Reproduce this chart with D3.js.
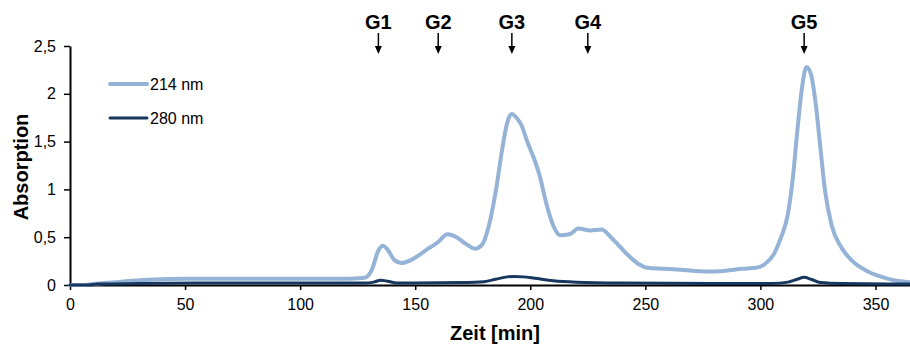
<!DOCTYPE html>
<html>
<head>
<meta charset="utf-8">
<script src="https://cdn.jsdelivr.net/npm/d3@7"></script>
<style>
  body { margin: 0; background: #fff; }
  svg { display: block; font-family: "Liberation Sans", Arial, sans-serif; }
</style>
</head>
<body>
<svg id="chart" width="910" height="345"></svg>
<script>
// 214 nm trace (time in min, absorption)
var t214 = [0, 5, 10, 20, 30, 40, 50, 70, 100, 120, 128, 131, 134, 136, 138, 141, 144, 148, 155, 160,
  164, 168, 172, 176, 179, 182, 185, 188, 190, 192, 194, 196, 199, 202, 204, 207, 210, 213, 217, 221,
  226, 231, 235, 239, 243, 247, 251, 258, 265, 277, 285, 292, 298, 302, 306, 309, 312, 314, 316, 318,
  320, 322, 324, 326, 328, 331, 335, 340, 346, 352, 358, 365];
var a214 = [0, 0, 0.01, 0.03, 0.05, 0.06, 0.065, 0.065, 0.065, 0.065, 0.075, 0.15, 0.36, 0.41, 0.37, 0.26, 0.23, 0.26, 0.37, 0.45,
  0.53, 0.50, 0.43, 0.38, 0.42, 0.62, 0.98, 1.45, 1.70, 1.79, 1.75, 1.68, 1.48, 1.30, 1.15, 0.85, 0.62, 0.52, 0.53, 0.59,
  0.57, 0.58, 0.50, 0.40, 0.30, 0.22, 0.18, 0.17, 0.16, 0.14, 0.15, 0.17, 0.18, 0.22, 0.33, 0.50, 0.75, 1.10, 1.60, 2.05,
  2.28, 2.20, 1.90, 1.45, 1.00, 0.62, 0.40, 0.25, 0.15, 0.09, 0.05, 0.03];

// 280 nm trace
var t280 = [0, 8, 12, 30, 60, 100, 128, 132, 135, 138, 142, 150, 170, 180, 185, 190, 193, 197, 202, 210,
  220, 240, 280, 305, 312, 316, 319, 322, 326, 335, 365];
var a280 = [0, 0, 0.01, 0.015, 0.02, 0.02, 0.02, 0.03, 0.05, 0.04, 0.02, 0.02, 0.025, 0.035, 0.06, 0.085, 0.09, 0.085, 0.07, 0.045,
  0.03, 0.02, 0.015, 0.015, 0.03, 0.06, 0.08, 0.06, 0.025, 0.015, 0.01];

var fractions = ["G1", "G2", "G3", "G4", "G5"];
var fractionTimes = [134, 160, 192, 225, 319];

var xTicks = [0, 50, 100, 150, 200, 250, 300, 350];
var yTicks = [0, 0.5, 1, 1.5, 2, 2.5];

var series = [
  {name: "214 nm", t: t214, a: a214, color: "#95b3d7", width: 4},
  {name: "280 nm", t: t280, a: a280, color: "#17375e", width: 3}
];

var svg = d3.select("#chart"),
    plotLeft = 70, plotRight = 910, plotTop = 46, plotBottom = 285;

var x = d3.scaleLinear().domain([0, 365]).range([plotLeft, plotRight]);
var y = d3.scaleLinear().domain([0, 2.5]).range([plotBottom, plotTop]);

var de = d3.formatLocale({decimal: ",", thousands: ".", grouping: [3], currency: ["", " €"]});
var fmt = de.format("~g");

// axes
var gx = svg.append("g")
  .attr("transform", "translate(0," + plotBottom + ")")
  .call(d3.axisBottom(x).tickValues(xTicks).tickSize(5).tickPadding(9).tickSizeOuter(0));
var gy = svg.append("g")
  .attr("transform", "translate(" + plotLeft + ",0)")
  .call(d3.axisLeft(y).tickValues(yTicks).tickFormat(fmt).tickSize(6).tickPadding(8).tickSizeOuter(0));

[gx, gy].forEach(function(g) {
  g.select(".domain").attr("stroke", "#000").attr("stroke-width", 2);
  g.selectAll(".tick line").attr("stroke", "#000").attr("stroke-width", 1.5);
  g.selectAll(".tick text").attr("fill", "#000").style("font-size", "16px")
    .style("font-family", "'Liberation Sans', Arial, sans-serif");
});

// traces
var line = d3.line().curve(d3.curveMonotoneX);
series.forEach(function(s) {
  var pts = s.t.map(function(d, i) { return [x(d), y(s.a[i])]; });
  svg.append("path")
    .attr("d", line(pts))
    .attr("fill", "none")
    .attr("stroke", s.color)
    .attr("stroke-width", s.width)
    .attr("stroke-linejoin", "round")
    .attr("stroke-linecap", "round");
});

// legend
var legendY = [84, 118];
series.forEach(function(s, i) {
  svg.append("line")
    .attr("x1", 110).attr("x2", 147)
    .attr("y1", legendY[i]).attr("y2", legendY[i])
    .attr("stroke", s.color).attr("stroke-width", s.width)
    .attr("stroke-linecap", "round");
  svg.append("text")
    .attr("x", 150).attr("y", legendY[i])
    .attr("dominant-baseline", "central")
    .style("font-size", "16px")
    .text(s.name);
});

// fraction markers
fractions.forEach(function(f, i) {
  var cx = x(fractionTimes[i]);
  svg.append("text")
    .attr("x", cx).attr("y", 28.5)
    .attr("text-anchor", "middle")
    .style("font-size", "20px").style("font-weight", "bold")
    .text(f);
  svg.append("line")
    .attr("x1", cx).attr("x2", cx).attr("y1", 33).attr("y2", 50)
    .attr("stroke", "#000").attr("stroke-width", 1.5);
  svg.append("path")
    .attr("d", "M" + (cx - 3.5) + ",46 L" + (cx + 3.5) + ",46 L" + cx + ",54 Z")
    .attr("fill", "#000");
});

// axis titles
svg.append("text")
  .attr("x", 495).attr("y", 340)
  .attr("text-anchor", "middle")
  .style("font-size", "20px").style("font-weight", "bold")
  .text("Zeit [min]");
svg.append("text")
  .attr("transform", "translate(28,167) rotate(-90)")
  .attr("text-anchor", "middle")
  .style("font-size", "20px").style("font-weight", "bold")
  .text("Absorption");
</script>
</body>
</html>
